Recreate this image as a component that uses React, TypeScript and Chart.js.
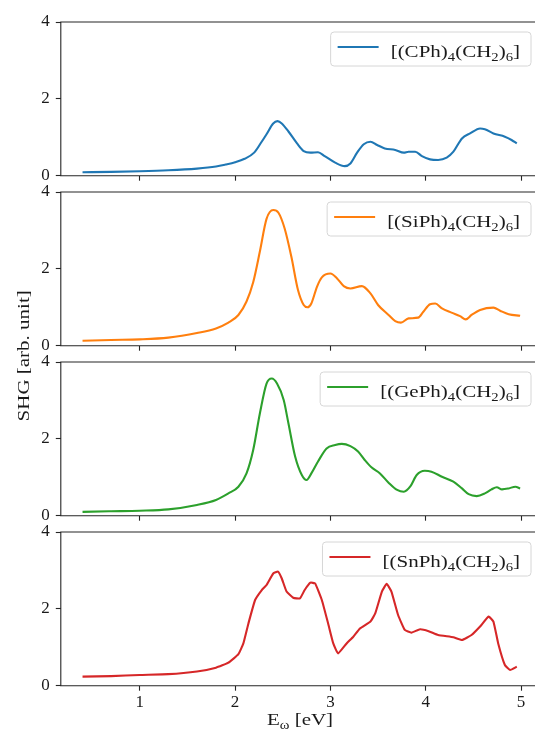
import React, { useEffect, useRef } from 'react';
import { Chart, registerables } from 'chart.js';

Chart.register(...registerables);

// ---- data -------------------------------------------------------------
const cphEnergy = [0.4, 0.7, 1.0, 1.3, 1.6, 1.8, 1.9, 2.0, 2.1, 2.2, 2.27, 2.33, 2.4, 2.445, 2.49, 2.56, 2.65, 2.72, 2.79, 2.87, 2.94, 3.05, 3.15, 3.21, 3.28, 3.35, 3.42, 3.49, 3.57, 3.68, 3.77, 3.82, 3.89, 3.96, 4.045, 4.13, 4.22, 4.29, 4.38, 4.465, 4.57, 4.62, 4.71, 4.83, 4.9, 4.955];
const cphShg = [0.09, 0.1, 0.115, 0.14, 0.185, 0.24, 0.29, 0.35, 0.44, 0.6, 0.85, 1.08, 1.36, 1.42, 1.36, 1.15, 0.84, 0.64, 0.6, 0.61, 0.51, 0.34, 0.25, 0.32, 0.6, 0.82, 0.885, 0.8, 0.71, 0.67, 0.6, 0.625, 0.625, 0.51, 0.425, 0.41, 0.47, 0.625, 0.97, 1.1, 1.23, 1.21, 1.1, 1.015, 0.93, 0.84];

const siphEnergy = [0.4, 0.7, 1.0, 1.3, 1.6, 1.8, 1.93, 2.035, 2.12, 2.19, 2.26, 2.33, 2.4, 2.455, 2.52, 2.59, 2.66, 2.72, 2.76, 2.8, 2.86, 2.91, 3.0, 3.07, 3.14, 3.21, 3.33, 3.42, 3.5, 3.61, 3.68, 3.74, 3.82, 3.92, 3.975, 4.045, 4.1, 4.17, 4.27, 4.36, 4.42, 4.48, 4.57, 4.71, 4.78, 4.87, 4.99];
const siphShg = [0.13, 0.15, 0.165, 0.21, 0.33, 0.45, 0.6, 0.8, 1.15, 1.65, 2.45, 3.3, 3.53, 3.46, 3.05, 2.32, 1.45, 1.06, 1.0, 1.1, 1.54, 1.78, 1.88, 1.75, 1.55, 1.49, 1.55, 1.36, 1.06, 0.8, 0.64, 0.6, 0.71, 0.73, 0.885, 1.08, 1.1, 0.97, 0.86, 0.77, 0.685, 0.8, 0.93, 0.99, 0.91, 0.82, 0.78];

const gephEnergy = [0.4, 0.7, 1.0, 1.3, 1.6, 1.8, 1.93, 2.035, 2.12, 2.19, 2.26, 2.33, 2.385, 2.44, 2.51, 2.56, 2.63, 2.7, 2.75, 2.8, 2.87, 2.96, 3.05, 3.12, 3.21, 3.29, 3.36, 3.43, 3.52, 3.61, 3.7, 3.77, 3.84, 3.905, 3.99, 4.06, 4.17, 4.29, 4.38, 4.45, 4.535, 4.62, 4.69, 4.745, 4.8, 4.87, 4.94, 4.99];
const gephShg = [0.1, 0.115, 0.13, 0.165, 0.28, 0.41, 0.58, 0.755, 1.1, 1.71, 2.66, 3.44, 3.57, 3.44, 3.01, 2.4, 1.54, 1.06, 0.93, 1.1, 1.41, 1.75, 1.84, 1.87, 1.81, 1.67, 1.45, 1.26, 1.1, 0.86, 0.67, 0.625, 0.77, 1.06, 1.17, 1.145, 1.015, 0.885, 0.71, 0.56, 0.51, 0.58, 0.685, 0.74, 0.685, 0.71, 0.755, 0.71];

const snphEnergy = [0.4, 0.7, 1.0, 1.3, 1.6, 1.8, 1.93, 2.035, 2.087, 2.14, 2.21, 2.28, 2.33, 2.4, 2.45, 2.49, 2.54, 2.61, 2.68, 2.73, 2.79, 2.84, 2.91, 2.98, 3.03, 3.08, 3.17, 3.24, 3.31, 3.42, 3.47, 3.54, 3.59, 3.64, 3.71, 3.78, 3.85, 3.94, 4.03, 4.13, 4.29, 4.38, 4.48, 4.57, 4.66, 4.71, 4.76, 4.83, 4.885, 4.955];
const snphShg = [0.235, 0.25, 0.28, 0.3, 0.37, 0.47, 0.6, 0.82, 1.1, 1.62, 2.23, 2.49, 2.62, 2.92, 2.97, 2.79, 2.45, 2.29, 2.27, 2.49, 2.68, 2.66, 2.23, 1.58, 1.1, 0.84, 1.1, 1.275, 1.49, 1.67, 1.88, 2.45, 2.65, 2.45, 1.84, 1.45, 1.38, 1.47, 1.42, 1.32, 1.26, 1.19, 1.32, 1.54, 1.8, 1.67, 1.1, 0.54, 0.41, 0.495];

const seriesNames = ['[(CPh)_4(CH_2)_6]', '[(SiPh)_4(CH_2)_6]', '[(GePh)_4(CH_2)_6]', '[(SnPh)_4(CH_2)_6]'];
const seriesEnergies = [cphEnergy, siphEnergy, gephEnergy, snphEnergy];
const seriesValues = [cphShg, siphShg, gephShg, snphShg];

const xTicks = [1, 2, 3, 4, 5];
const yTicks = [0, 2, 4];
const xLabel = 'E_ω [eV]';
const yLabel = 'SHG [arb. unit]';

// ---- styling / layout -------------------------------------------------
const COLORS = ['#1f77b4', '#ff7f0e', '#2ca02c', '#d62728'];
const FONT = '"Liberation Serif", "Times New Roman", serif';
const AXIS_COLOR = '#262626';
const TEXT_COLOR = '#1a1a1a';
const CANVAS_W = 535;
const CANVAS_H = 730;
const PLOT_LEFT = 60.8;
const PLOT_RIGHT = 535; // plot runs on past the right edge of the page
const PANEL_TOPS = [22, 192, 362, 532];
const PANEL_H = 153.7;
const X_MIN = 0.172;
const X_MAX = 5.146;
const TICK_FONT = 17;
const LABEL_FONT = 17.5;
const STRETCH = 1.2; // widen the serif text horizontally
const Y_AXIS_W = 45;
const X_AXIS_H = 30;

type Part = { t: string; sub: boolean };

// "A_2B" -> A, subscript 2, B
function parseRich(s: string): Part[] {
  const parts: Part[] = [];
  let buf = '';
  for (let i = 0; i < s.length; i++) {
    if (s[i] === '_' && i + 1 < s.length) {
      if (buf) parts.push({ t: buf, sub: false });
      buf = '';
      parts.push({ t: s[i + 1], sub: true });
      i++;
    } else {
      buf += s[i];
    }
  }
  if (buf) parts.push({ t: buf, sub: false });
  return parts;
}

function richWidth(ctx: CanvasRenderingContext2D, parts: Part[], size: number) {
  let w = 0;
  for (const p of parts) {
    ctx.font = `${p.sub ? size * 0.7 : size}px ${FONT}`;
    w += ctx.measureText(p.t).width;
  }
  return w * STRETCH;
}

// draws stretched rich text with its left end at (x, y) baseline
function drawRich(ctx: CanvasRenderingContext2D, parts: Part[], x: number, y: number, size: number) {
  ctx.save();
  ctx.translate(x, y);
  ctx.scale(STRETCH, 1);
  let cx = 0;
  ctx.textAlign = 'left';
  ctx.textBaseline = 'alphabetic';
  for (const p of parts) {
    const fs = p.sub ? size * 0.7 : size;
    ctx.font = `${fs}px ${FONT}`;
    ctx.fillText(p.t, cx, p.sub ? size * 0.2 : 0);
    cx += ctx.measureText(p.t).width;
  }
  ctx.restore();
}

function roundRect(ctx: CanvasRenderingContext2D, x: number, y: number, w: number, h: number, r: number) {
  ctx.beginPath();
  ctx.moveTo(x + r, y);
  ctx.lineTo(x + w - r, y);
  ctx.quadraticCurveTo(x + w, y, x + w, y + r);
  ctx.lineTo(x + w, y + h - r);
  ctx.quadraticCurveTo(x + w, y + h, x + w - r, y + h);
  ctx.lineTo(x + r, y + h);
  ctx.quadraticCurveTo(x, y + h, x, y + h - r);
  ctx.lineTo(x, y + r);
  ctx.quadraticCurveTo(x, y, x + r, y);
  ctx.closePath();
}

// Frame, legend box and shared axis titles
const panelDecor = {
  id: 'panelDecor',
  afterDatasetsDraw(chart: any, _args: any, opts: any) {
    const { ctx, chartArea } = chart;
    const { left, top, right, bottom } = chartArea;
    ctx.save();
    // spines: left, top and bottom (the right one lies beyond the page)
    ctx.strokeStyle = AXIS_COLOR;
    ctx.lineWidth = 1.1;
    ctx.beginPath();
    ctx.moveTo(right + 2, top);
    ctx.lineTo(left, top);
    ctx.lineTo(left, bottom);
    ctx.lineTo(right + 2, bottom);
    ctx.stroke();

    // legend (upper right)
    const parts = parseRich(opts.name);
    const tw = richWidth(ctx, parts, LABEL_FONT);
    const boxRight = right - 4;
    const textRight = boxRight - 11;
    const textLeft = textRight - tw;
    const lineEnd = textLeft - 12;
    const lineStart = lineEnd - 41;
    const boxLeft = lineStart - 7;
    const boxTop = top + 10;
    const boxH = 34;
    roundRect(ctx, boxLeft, boxTop, boxRight - boxLeft, boxH, 3.5);
    ctx.fillStyle = 'rgba(255,255,255,0.8)';
    ctx.fill();
    ctx.strokeStyle = '#d6d6d6';
    ctx.lineWidth = 1;
    ctx.stroke();
    ctx.strokeStyle = opts.color;
    ctx.lineWidth = 2.2;
    ctx.beginPath();
    ctx.moveTo(lineStart, boxTop + 15);
    ctx.lineTo(lineEnd, boxTop + 15);
    ctx.stroke();
    ctx.fillStyle = TEXT_COLOR;
    drawRich(ctx, parts, textLeft, boxTop + 25, LABEL_FONT);

    if (opts.last) {
      // x title, centred on the full plot width
      const xp = parseRich(xLabel);
      const xw = richWidth(ctx, xp, LABEL_FONT);
      ctx.fillStyle = TEXT_COLOR;
      drawRich(ctx, xp, 300 - xw / 2, 725, LABEL_FONT);
      // y title
      const yp = parseRich(yLabel);
      const yw = richWidth(ctx, yp, LABEL_FONT);
      ctx.translate(28.5, (PANEL_TOPS[0] + PANEL_TOPS[3] + PANEL_H) / 2 + 2);
      ctx.rotate(-Math.PI / 2);
      drawRich(ctx, yp, -yw / 2, 0, LABEL_FONT);
    }
    ctx.restore();
  },
};

function makeConfig(i: number): any {
  const last = i === seriesNames.length - 1;
  const points = seriesEnergies[i].map((e, k) => ({ x: e, y: seriesValues[i][k] }));
  const top = PANEL_TOPS[i];
  const bottom = top + PANEL_H;
  return {
    type: 'line',
    data: {
      datasets: [
        {
          data: points,
          borderColor: COLORS[i],
          borderWidth: 2.1,
          pointRadius: 0,
          fill: false,
          cubicInterpolationMode: last ? 'default' : 'monotone',
          tension: last ? 0.12 : 0.4,
        },
      ],
    },
    plugins: [panelDecor],
    options: {
      responsive: false,
      animation: false,
      events: [],
      layout: {
        padding: {
          left: PLOT_LEFT - Y_AXIS_W,
          right: CANVAS_W - PLOT_RIGHT,
          top,
          bottom: CANVAS_H - bottom - X_AXIS_H,
        },
      },
      plugins: {
        legend: { display: false },
        tooltip: { enabled: false },
        panelDecor: { name: seriesNames[i], color: COLORS[i], last },
      },
      scales: {
        x: {
          type: 'linear',
          min: X_MIN,
          max: X_MAX,
          afterFit: (s: any) => {
            s.height = X_AXIS_H;
          },
          afterBuildTicks: (s: any) => {
            s.ticks = xTicks.map((v) => ({ value: v }));
          },
          border: { display: false },
          grid: { drawOnChartArea: false, drawTicks: true, tickLength: 5, tickWidth: 1.1, tickColor: AXIS_COLOR },
          ticks: {
            display: last,
            padding: 2,
            color: TEXT_COLOR,
            font: { family: FONT, size: TICK_FONT },
            maxRotation: 0,
            autoSkip: false,
            callback: (v: any) => String(v),
          },
        },
        y: {
          min: 0,
          max: 4,
          afterFit: (s: any) => {
            s.width = Y_AXIS_W;
          },
          afterBuildTicks: (s: any) => {
            s.ticks = yTicks.map((v) => ({ value: v }));
          },
          border: { display: false },
          grid: { drawOnChartArea: false, drawTicks: true, tickLength: 5, tickWidth: 1.1, tickColor: AXIS_COLOR },
          ticks: {
            padding: 6,
            color: TEXT_COLOR,
            font: { family: FONT, size: TICK_FONT },
            autoSkip: false,
            callback: (v: any) => String(v),
          },
        },
      },
    },
  };
}

export default function App() {
  const refs = [useRef<HTMLCanvasElement>(null), useRef<HTMLCanvasElement>(null), useRef<HTMLCanvasElement>(null), useRef<HTMLCanvasElement>(null)];

  useEffect(() => {
    const charts = refs.map((r, i) => new Chart(r.current as HTMLCanvasElement, makeConfig(i)));
    return () => charts.forEach((c) => c.destroy());
  }, []);

  return (
    <div
      style={{
        position: 'fixed',
        left: 0,
        top: 0,
        width: CANVAS_W,
        height: CANVAS_H,
        overflow: 'hidden',
        background: '#ffffff',
      }}
    >
      {refs.map((r, i) => (
        <canvas
          key={i}
          ref={r}
          width={CANVAS_W}
          height={CANVAS_H}
          style={{ position: 'absolute', left: 0, top: 0, width: CANVAS_W, height: CANVAS_H }}
        />
      ))}
    </div>
  );
}
